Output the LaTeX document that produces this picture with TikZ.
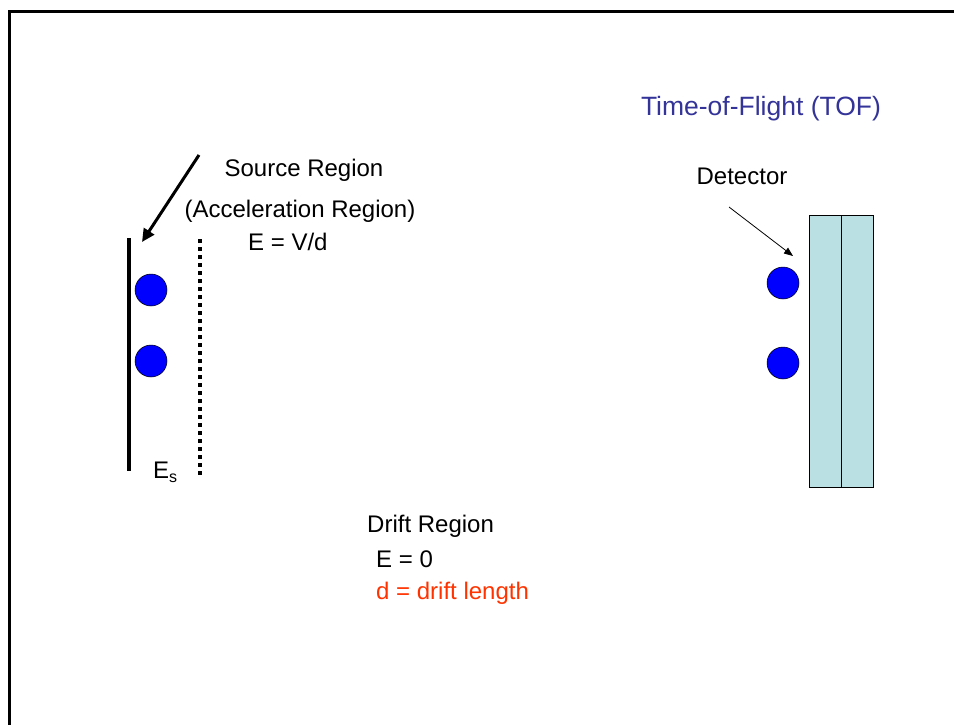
\documentclass[tikz,border=0pt]{standalone}
\usepackage{fontspec}
\setmainfont{Liberation Sans}
\usetikzlibrary{arrows.meta}
\definecolor{titleblue}{HTML}{333399}
\definecolor{ionblue}{HTML}{0000FF}
\definecolor{detfill}{HTML}{BBE0E3}
\definecolor{driftred}{HTML}{FF3300}
\begin{document}
\begin{tikzpicture}[x=1pt,y=-1pt,
  lbl/.style={font=\fontsize{24}{28}\selectfont, inner sep=0pt},
  ion/.style={circle, draw=black, line width=0.5pt, fill=ionblue, minimum size=32pt, inner sep=0pt},
  panel/.style={draw=black, line width=0.8pt, fill=detfill, minimum width=32pt, minimum height=272pt, inner sep=0pt, anchor=north west},
]
\useasboundingbox (0,0) rectangle (954,725);
% slide frame
\draw[line width=3pt] (9,740) |- (970,12);

% title
\node[lbl, font=\fontsize{26.5}{30}\selectfont, text=titleblue, anchor=base] (title) at (761,115) {Time-of-Flight (TOF)};

% source region labels
\node[lbl, anchor=base] (src) at (304,176) {Source Region};
\node[lbl, anchor=base] (acc) at (300,217) {(Acceleration Region)};
\node[lbl, anchor=base west] (efield) at (248,250) {E = V/d};
\node[lbl, anchor=base west] (es) at (153,478) {E\raisebox{-4pt}{\fontsize{16}{16}\selectfont s}};

% backing plate and extraction grid
\coordinate (plateTop) at (129,238);
\coordinate (plateBot) at (129,471);
\draw[line width=4pt] (plateTop) -- (plateBot);
\coordinate (gridTop) at (200,239);
\coordinate (gridBot) at (200,476);
\draw[line width=3.5pt, dash pattern=on 3.5pt off 4.5pt] (gridTop) -- (gridBot);

% pointer onto the source plate
\coordinate (srcTail) at (199,155);
\coordinate (srcHead) at (142,242);
\draw[line width=3pt, -{Triangle[length=13pt,width=12pt]}] (srcTail) -- (srcHead);

% ions in the source
\node[ion] (ionA) at (151,290) {};
\node[ion] (ionB) at (151,361) {};

% ions arriving at the detector
\node[ion] (ionC) at (783,283) {};
\node[ion] (ionD) at (783,363) {};

% detector plates
\node[panel] (detA) at (809,215) {};
\node[panel, minimum width=31.5pt] (detB) at (841,215) {};

% detector label and pointer
\node[lbl, anchor=base] (det) at (742,184) {Detector};
\coordinate (detTail) at (729,207);
\coordinate (detHead) at (793,256);
\draw[line width=0.8pt, -{Triangle[length=9pt,width=7pt]}] (detTail) -- (detHead);

% drift region labels
\node[lbl, anchor=base west] (drift) at (367,532) {Drift Region};
\node[lbl, anchor=base west] (ezero) at (376,567) {E = 0};
\node[lbl, anchor=base west, text=driftred] (dlen) at (376,599) {d = drift length};
\end{tikzpicture}
\end{document}
